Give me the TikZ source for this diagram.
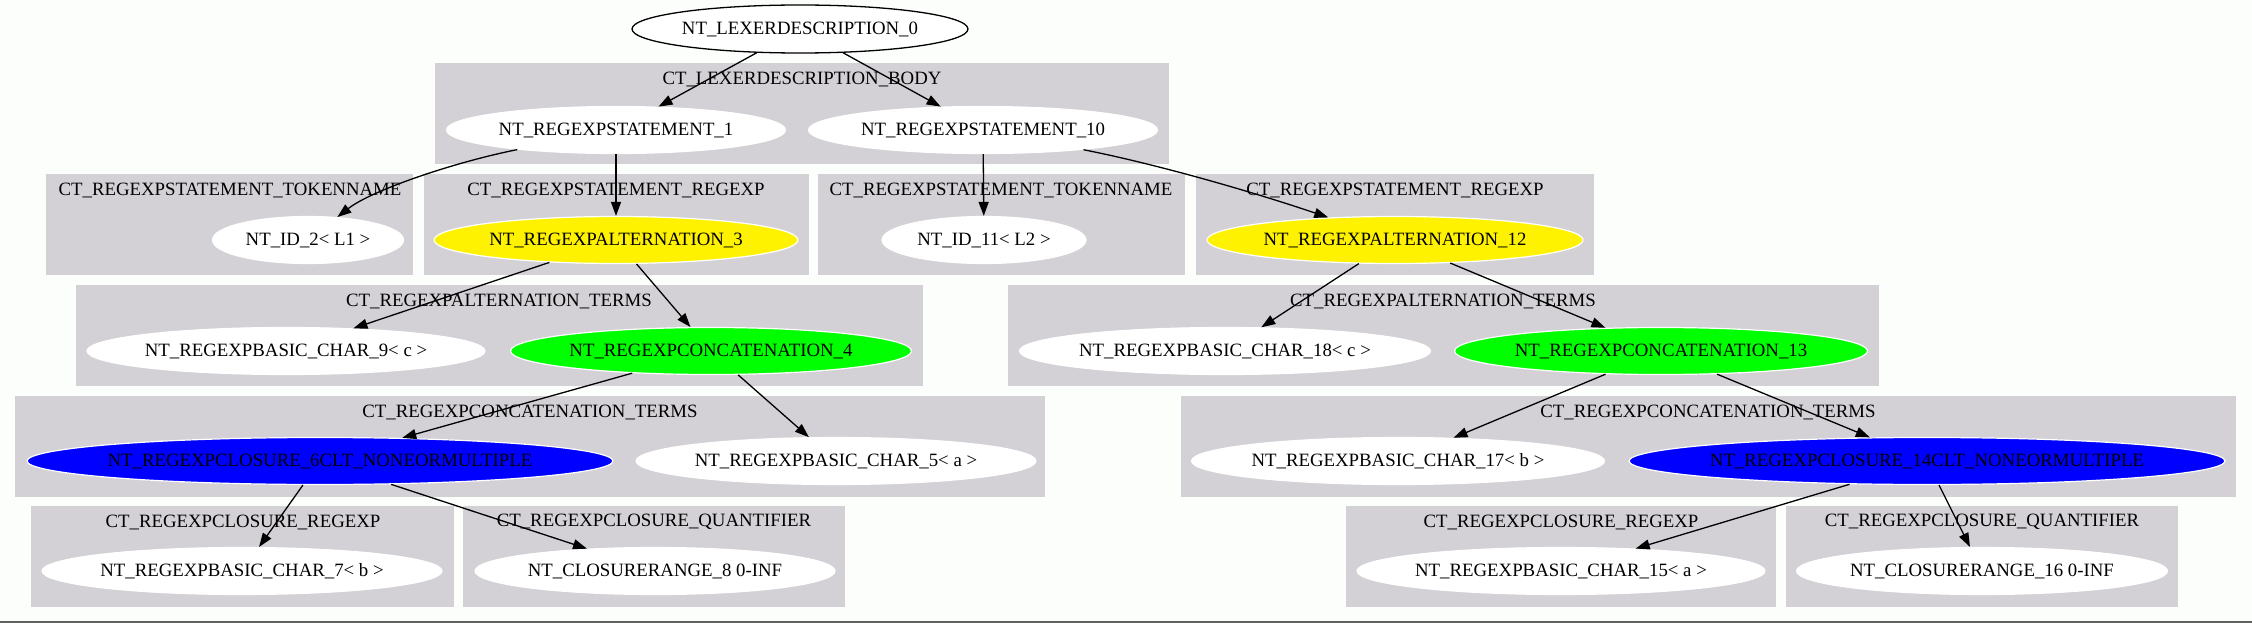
\documentclass[tikz,border=0pt]{standalone}
\usepackage{fontspec}
\setmainfont{Liberation Serif}
\usetikzlibrary{shapes.geometric, arrows.meta}
\definecolor{clustergray}{RGB}{211,209,214}
\definecolor{paper}{RGB}{252,254,252}
\definecolor{rule}{RGB}{96,96,96}

\begin{document}
\begin{tikzpicture}[x=1pt, y=-1pt, font=\fontsize{18.8}{22}\selectfont,
	state/.style={ellipse, fill=white, draw=white, line width=1.2pt, minimum height=47pt, inner xsep=-25pt, inner ysep=0pt},
	root/.style={draw=black, line width=1.3pt},
	alt/.style={fill=yellow}, cat/.style={fill=green}, clos/.style={fill=blue},
	title/.style={inner sep=0pt},
	edge/.style={line width=1.3pt, -{Triangle[length=14pt, width=10pt]}}]
	\useasboundingbox (0,0) rectangle (2252,623);
	\fill[paper] (0,0) rectangle (2252,623);
	\draw[rule, line width=1.5pt] (0,622) -- (2252,622);

	% clusters
	\fill[clustergray] (435,63) rectangle (1169,164);
	\fill[clustergray] (46,174) rectangle (413,275);
	\fill[clustergray] (424,174) rectangle (809,275);
	\fill[clustergray] (818,174) rectangle (1185,275);
	\fill[clustergray] (1196,174) rectangle (1594,275);
	\fill[clustergray] (76,285) rectangle (923,386);
	\fill[clustergray] (1008,285) rectangle (1879,386);
	\fill[clustergray] (15,396) rectangle (1045,497);
	\fill[clustergray] (1181,396) rectangle (2236,497);
	\fill[clustergray] (31,506) rectangle (454,607);
	\fill[clustergray] (463,506) rectangle (845,607);
	\fill[clustergray] (1346,506) rectangle (1776,607);
	\fill[clustergray] (1786,506) rectangle (2178,607);

	\node[title] (body) at (802,79) {CT\_LEXERDESCRIPTION\_BODY};
	\node[title] (tok1) at (230,190) {CT\_REGEXPSTATEMENT\_TOKENNAME};
	\node[title] (reg1) at (616,190) {CT\_REGEXPSTATEMENT\_REGEXP};
	\node[title] (tok2) at (1001,190) {CT\_REGEXPSTATEMENT\_TOKENNAME};
	\node[title] (reg2) at (1395,190) {CT\_REGEXPSTATEMENT\_REGEXP};
	\node[title] (terms1) at (499,301) {CT\_REGEXPALTERNATION\_TERMS};
	\node[title] (terms2) at (1443,301) {CT\_REGEXPALTERNATION\_TERMS};
	\node[title] (cterms1) at (530,412) {CT\_REGEXPCONCATENATION\_TERMS};
	\node[title] (cterms2) at (1708,412) {CT\_REGEXPCONCATENATION\_TERMS};
	\node[title] (cre1) at (243,522) {CT\_REGEXPCLOSURE\_REGEXP};
	\node[title] (quant1) at (654,522) {CT\_REGEXPCLOSURE\_QUANTIFIER};
	\node[title] (cre2) at (1561,522) {CT\_REGEXPCLOSURE\_REGEXP};
	\node[title] (quant2) at (1982,522) {CT\_REGEXPCLOSURE\_QUANTIFIER};

	% nodes
	\node[state, root, minimum width=336pt, minimum height=48pt] (0) at (800,29) {NT\_LEXERDESCRIPTION\_0};
	\node[state, minimum width=339pt] (1) at (616,130) {NT\_REGEXPSTATEMENT\_1};
	\node[state, minimum width=349pt] (10) at (983,130) {NT\_REGEXPSTATEMENT\_10};
	\node[state, minimum width=191pt] (2) at (308,240) {NT\_ID\_2< L1 >};
	\node[state, alt, minimum width=364pt] (3) at (616,240) {NT\_REGEXPALTERNATION\_3};
	\node[state, minimum width=204pt] (11) at (984,240) {NT\_ID\_11< L2 >};
	\node[state, alt, minimum width=376pt] (12) at (1395,240) {NT\_REGEXPALTERNATION\_12};
	\node[state, minimum width=398pt] (9) at (286,351) {NT\_REGEXPBASIC\_CHAR\_9< c >};
	\node[state, cat, minimum width=401pt] (4) at (711,351) {NT\_REGEXPCONCATENATION\_4};
	\node[state, minimum width=411pt] (18) at (1225,351) {NT\_REGEXPBASIC\_CHAR\_18< c >};
	\node[state, cat, minimum width=413pt] (13) at (1661,351) {NT\_REGEXPCONCATENATION\_13};
	\node[state, clos, minimum width=586pt] (6) at (320,461) {NT\_REGEXPCLOSURE\_6CLT\_NONEORMULTIPLE};
	\node[state, minimum width=400pt] (5) at (836,461) {NT\_REGEXPBASIC\_CHAR\_5< a >};
	\node[state, minimum width=413pt] (17) at (1398,461) {NT\_REGEXPBASIC\_CHAR\_17< b >};
	\node[state, clos, minimum width=596pt] (14) at (1927,461) {NT\_REGEXPCLOSURE\_14CLT\_NONEORMULTIPLE};
	\node[state, minimum width=400pt] (7) at (242,571) {NT\_REGEXPBASIC\_CHAR\_7< b >};
	\node[state, minimum width=360pt] (8) at (655,571) {NT\_CLOSURERANGE\_8 0-INF};
	\node[state, minimum width=408pt] (15) at (1561,571) {NT\_REGEXPBASIC\_CHAR\_15< a >};
	\node[state, minimum width=371pt] (16) at (1982,571) {NT\_CLOSURERANGE\_16 0-INF};

	% edges
	\draw[edge] (0) -- (1);
	\draw[edge] (0) -- (10);
	\draw[edge] (1) .. controls (455,162) and (372,190) .. (2);
	\draw[edge] (1) -- (3);
	\draw[edge] (10) -- (11);
	\draw[edge] (10) .. controls (1151,163) and (1244,189) .. (12);
	\draw[edge] (3) -- (9);
	\draw[edge] (3) -- (4);
	\draw[edge] (4) -- (6);
	\draw[edge] (4) -- (5);
	\draw[edge] (6) -- (7);
	\draw[edge] (6) -- (8);
	\draw[edge] (12) -- (18);
	\draw[edge] (12) -- (13);
	\draw[edge] (13) -- (17);
	\draw[edge] (13) -- (14);
	\draw[edge] (14) -- (15);
	\draw[edge] (14) -- (16);
\end{tikzpicture}
\end{document}
